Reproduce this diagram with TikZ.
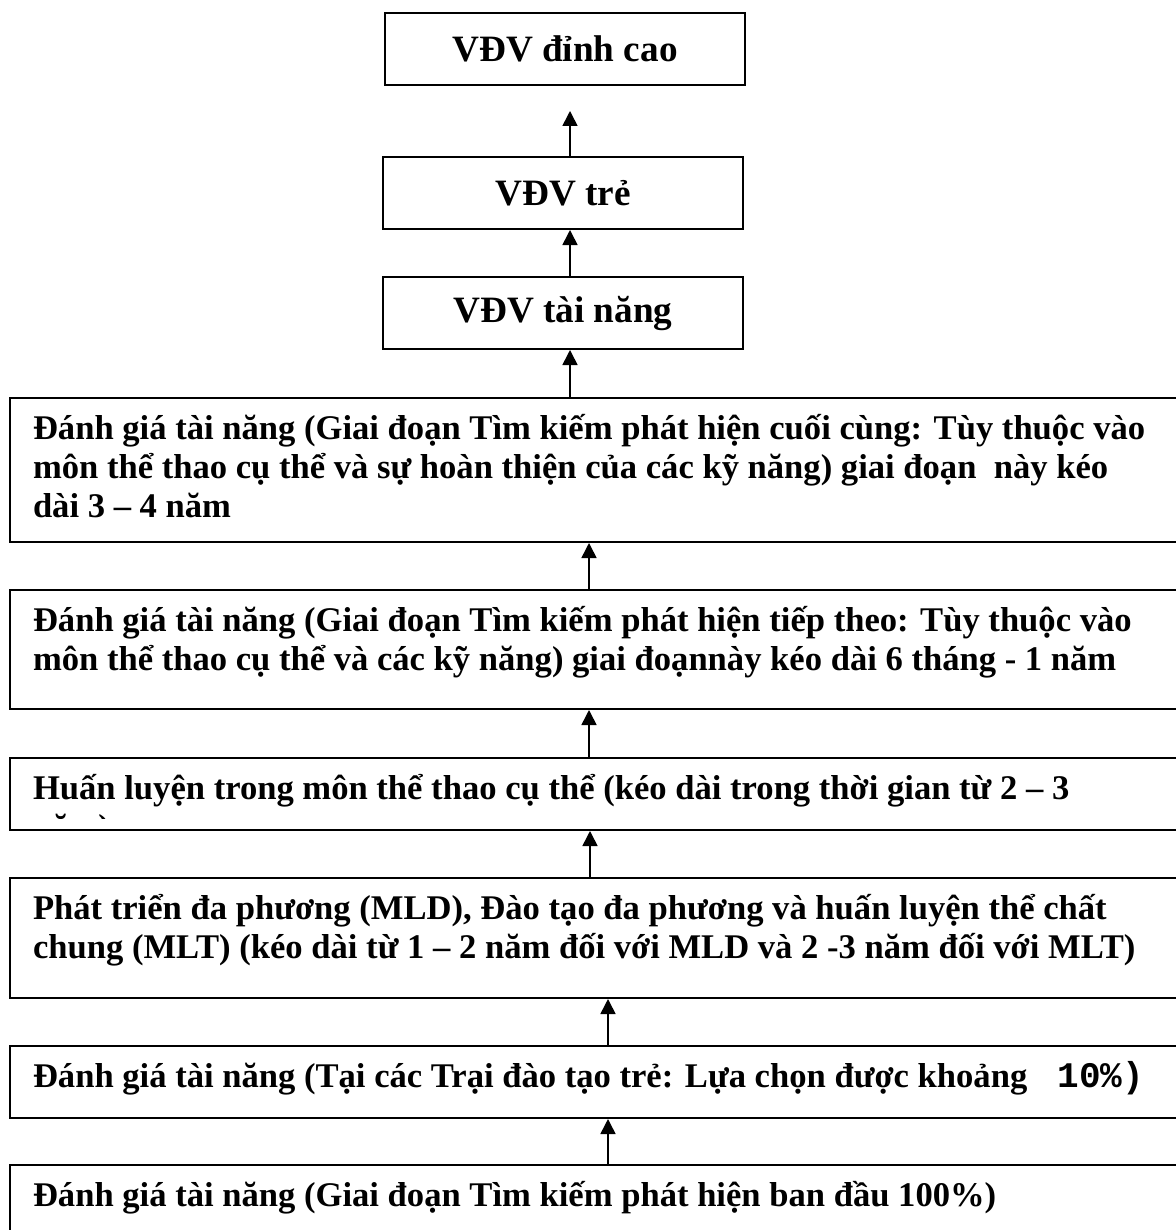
\documentclass[tikz,border=0pt]{standalone}
\usepackage{fontspec}
\setmainfont{Liberation Serif}
\newfontfamily\monofont{Liberation Mono}
\usetikzlibrary{arrows.meta}

\newcommand{\stagetext}[2]{\parbox[t][#1][t]{565pt}{\raggedright\rule{0pt}{20.5pt}#2}}

\begin{document}
\begin{tikzpicture}[x=0.5pt,y=-0.5pt,
	topbox/.style={draw, line width=1pt, minimum width=180pt, minimum height=36pt, inner sep=0pt, font=\fontsize{18.6pt}{22pt}\selectfont\bfseries},
	stagebox/.style={draw, line width=1pt, anchor=north west, inner xsep=11.5pt, inner ysep=0pt, font=\fontsize{17.3pt}{19.5pt}\selectfont\bfseries},
	uparrow/.style={-{Triangle[length=7.5pt,width=7.5pt]}, line width=0.8pt}]
	\useasboundingbox (0,0) rectangle (1175,1230);
	\node[topbox] (peak) at (565,49) {VĐV đỉnh cao};
	\node[topbox] (young) at (563,193) {VĐV trẻ};
	\node[topbox] (talent) at (563,313) {VĐV tài năng};
	\node[stagebox] (final) at (9,397) {\stagetext{72pt}{Đánh giá tài năng (Giai đoạn Tìm kiếm phát hiện cuối cùng: Tùy thuộc vào\\môn thể thao cụ thể và sự hoàn thiện của các kỹ năng) giai đoạn\ \ này kéo\\dài 3 – 4 năm}};
	\node[stagebox] (next) at (9,589) {\stagetext{59.5pt}{Đánh giá tài năng (Giai đoạn Tìm kiếm phát hiện tiếp theo: Tùy thuộc vào\\môn thể thao cụ thể và các kỹ năng) giai đoạnnày kéo dài 6 tháng - 1 năm}};
	\node[stagebox] (train) at (9,757) {\stagetext{36pt}{}};
	\begin{scope}
		% the second line is cut off by the box
		\clip (9,757) rectangle (1185,818);
		\node[stagebox, draw=none] (traintext) at (train.north west) {\stagetext{60pt}{Huấn luyện trong môn thể thao cụ thể (kéo dài trong thời gian từ 2 – 3\\năm)}};
	\end{scope}
	\node[stagebox] (develop) at (9,877) {\stagetext{60pt}{Phát triển đa phương (MLD), Đào tạo đa phương và huấn luyện thể chất\\chung (MLT) (kéo dài từ 1 – 2 năm đối với MLD và 2 -3 năm đối với MLT)}};
	\node[stagebox] (camp) at (9,1045) {\stagetext{36pt}{Đánh giá tài năng (Tại các Trại đào tạo trẻ: Lựa chọn được khoảng {\monofont\fontsize{18pt}{19.5pt}\selectfont\ 10\%)}}};
	\node[stagebox] (initial) at (9,1164) {\stagetext{40pt}{Đánh giá tài năng (Giai đoạn Tìm kiếm phát hiện ban đầu 100\%)}};

	\draw[uparrow] ([xshift=3.5pt]young.north) -- ([xshift=2.5pt,yshift=-12.5pt]peak.south);
	\draw[uparrow] ([xshift=3.5pt]talent.north) -- ([xshift=3.5pt]young.south);
	\draw[uparrow] ([xshift=3.5pt]talent.south |- final.north) -- ([xshift=3.5pt]talent.south);
	\draw[uparrow] ([xshift=-4.5pt]next.north) -- ([xshift=-4.5pt]final.south);
	\draw[uparrow] ([xshift=-4.5pt]train.north) -- ([xshift=-4.5pt]next.south);
	\draw[uparrow] ([xshift=-4pt]develop.north) -- ([xshift=-4pt]train.south);
	\draw[uparrow] ([xshift=5pt]camp.north) -- ([xshift=5pt]develop.south);
	\draw[uparrow] ([xshift=5pt]initial.north) -- ([xshift=5pt]camp.south);
\end{tikzpicture}
\end{document}
